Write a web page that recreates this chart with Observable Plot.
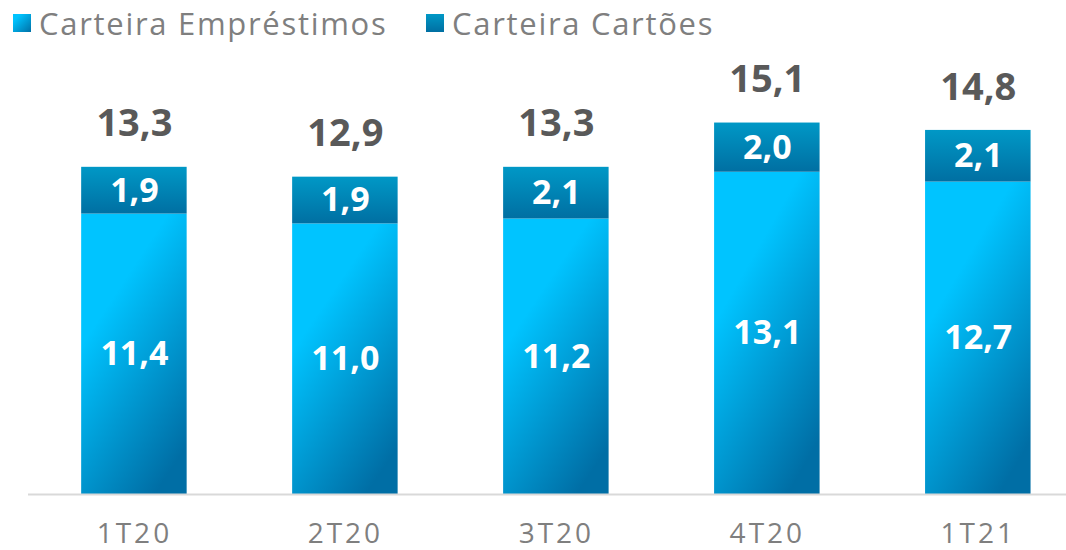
<!DOCTYPE html>
<html>
<head>
<meta charset="utf-8">
<script src="https://cdn.jsdelivr.net/npm/d3@7"></script>
<script src="https://cdn.jsdelivr.net/npm/@observablehq/plot@0.6"></script>
<style>
  html, body { margin: 0; padding: 0; background: #fff; }
  body { width: 1066px; height: 550px; overflow: hidden; font-family: "Open Sans", sans-serif; }
  #legend { position: relative; height: 45px; }
  .item { position: absolute; top: 0; height: 45px; display: flex; align-items: center; color: #7f7f7f; font-size: 31px; letter-spacing: 1.7px; white-space: nowrap; }
  .sw { width: 18px; height: 18px; margin-right: 8px; }
  #chart svg { display: block; }
</style>
</head>
<body>
<div id="legend"></div>
<div id="chart"></div>
<script>
const periods = ["1T20", "2T20", "3T20", "4T20", "1T21"];
const seriesNames = ["Carteira Empréstimos", "Carteira Cartões"];
const emprestimos = [11.4, 11.0, 11.2, 13.1, 12.7];
const cartoes = [1.9, 1.9, 2.1, 2.0, 2.1];
const totais = [13.3, 12.9, 13.3, 15.1, 14.8];

const fmt = v => d3.format(".1f")(v).replace(".", ",");

const rows = periods.map((p, i) => ({
  period: p,
  emp: emprestimos[i],
  card: cartoes[i],
  total: totais[i],
  top: emprestimos[i] + cartoes[i]
}));

// Legend
const legend = document.getElementById("legend");
const swatchGrad = [
  "linear-gradient(135deg, #00c4ff 20%, #0070a6 100%)",
  "linear-gradient(180deg, #0098c6 0%, #006fa2 100%)"
];
const legendX = [13, 426];
seriesNames.forEach((name, i) => {
  const d = document.createElement("div");
  d.className = "item";
  d.style.left = legendX[i] + "px";
  d.innerHTML = `<span class="sw" style="background:${swatchGrad[i]}"></span><span>${name}</span>`;
  legend.appendChild(d);
});

const H = 505;
const baseline = 449;
const pxPerUnit = 24.6;

const chart = Plot.plot({
  width: 1066,
  height: H,
  marginLeft: 28,
  marginRight: 0,
  marginTop: 0,
  marginBottom: H - baseline,
  style: { fontFamily: "'Open Sans', sans-serif", background: "#fff", overflow: "visible" },
  x: { domain: periods, paddingInner: 0.5, paddingOuter: 0.21, align: 0.6, round: false, label: null },
  y: { domain: [0, baseline / pxPerUnit], axis: null },
  marks: [
    Plot.barY(rows, { x: "period", y1: 0, y2: "emp", fill: "url(#gradEmp)" }),
    Plot.barY(rows, { x: "period", y1: "emp", y2: "top", fill: "url(#gradCard)" }),
    Plot.ruleY([0], { stroke: "#d9d9d9", strokeWidth: 2 }),
    Plot.axisX({ tickSize: 0, tickPadding: 29, fontSize: 28, fill: "#7f7f7f", label: null }),
    Plot.text(rows, { x: "period", y: d => d.emp / 2, text: d => fmt(d.emp), fill: "#fff", fontSize: 34, fontWeight: 700 }),
    Plot.text(rows, { x: "period", y: d => d.emp + d.card / 2, text: d => fmt(d.card), fill: "#fff", fontSize: 34, fontWeight: 700 }),
    Plot.text(rows, { x: "period", y: "total", dy: -43, text: d => fmt(d.total), fill: "#595959", fontSize: 38, fontWeight: 700 })
  ]
});

chart.insertAdjacentHTML("afterbegin", `
<defs>
  <linearGradient id="gradEmp" x1="0.3" y1="0.3" x2="0.7" y2="1">
    <stop offset="0" stop-color="#00c4ff"/>
    <stop offset="1" stop-color="#006ea5"/>
  </linearGradient>
  <linearGradient id="gradCard" x1="0" y1="0" x2="0" y2="1">
    <stop offset="0" stop-color="#0098c6"/>
    <stop offset="1" stop-color="#006fa2"/>
  </linearGradient>
</defs>`);

chart.querySelectorAll('[aria-label="x-axis tick label"] text').forEach(t => {
  t.setAttribute("letter-spacing", "3");
});

document.getElementById("chart").appendChild(chart);
</script>
</body>
</html>
